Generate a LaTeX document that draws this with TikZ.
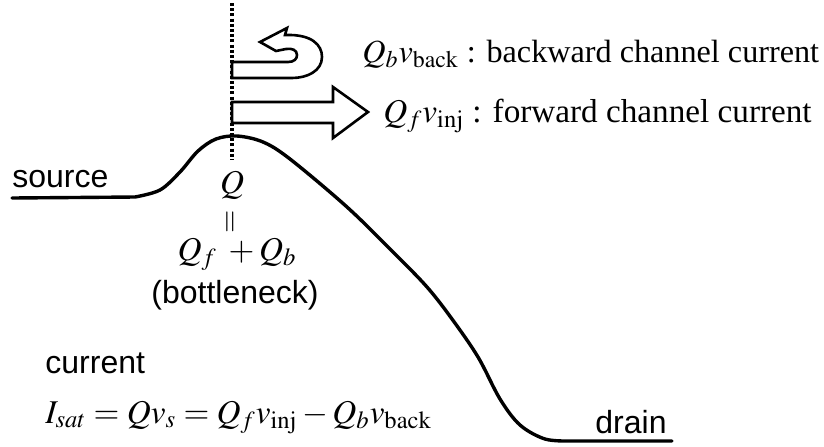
\documentclass[tikz,border=0pt]{standalone}
\usepackage{mathptmx}
\usepackage{fontspec}
\setmainfont{Liberation Serif}
\setsansfont{Liberation Sans}
\usetikzlibrary{positioning}

\begin{document}
\begin{tikzpicture}[
  x=0.5pt, y=-0.5pt,
  font=\fontsize{16.6}{20}\selectfont,
  lbl/.style={inner sep=0pt, anchor=base west},
  sans/.style={font=\sffamily\fontsize{16}{19}\selectfont},
  band/.style={draw, line width=1.3pt, fill=white, line join=miter},
  barrier/.style={line width=1.7pt, line cap=round},
  cut/.style={line width=2pt, dash pattern=on 1.5pt off 1.1pt},
]
\useasboundingbox (0,0) rectangle (824,446);
% potential along the channel
\draw[barrier] (12,198) -- (135,197)
  plot[smooth, tension=0.55] coordinates {(135,197) (160,190) (180,172) (198,151)
    (216,139) (237,136) (263,142) (290,159) (347,207) (393,252) (427,287)
    (452,319) (478,357) (500,399) (520,425) (545,439) (570,441)}
  -- (672,441);
% top of the barrier
\draw[cut] (232,3) -- (232,160);
% backward current: hook arrow
\draw[band] (232,62) -- (288,62) .. controls (294,62) and (297,59) .. (297,55)
  .. controls (297,50) and (292,48) .. (286,49) -- (276,51) -- (260,42)
  -- (287,28) -- (285,35) .. controls (312,34) and (322,45) .. (322,57)
  .. controls (322,71) and (307,78) .. (292,78) -- (232,78) -- cycle;
% forward current: block arrow
\draw[band] (232,102) -- (333,102) -- (333,87) -- (368,112) -- (333,138)
  -- (333,123) -- (232,123) -- cycle;
\node[lbl, font=\fontsize{16.1}{20}\selectfont] (back) at (362,62) {$Q_b v_{\mathrm{back}}$ : backward channel current};
\node[lbl] (fwd) at (383,122) {$Q_f v_{\mathrm{inj}}$ : forward channel current};
\node[lbl, sans] (src) at (12,187) {source};
\node[inner sep=0pt, anchor=base] (q) at (232,193) {$Q$};
\node[inner sep=0pt, rotate=90, font=\fontsize{15}{16}\selectfont] (eq) at (232,222) {$=$};
\node[inner sep=0pt, anchor=base] (qsum) at (237,260) {$Q_f \;+ Q_b$};
\node[inner sep=0pt, anchor=base, sans] (neck) at (235,303) {(bottleneck)};
\node[lbl, sans] (cur) at (45,373) {current};
\node[lbl] (isat) at (45,423) {$I_{sat} = Q v_s = Q_f v_{\mathrm{inj}} - Q_b v_{\mathrm{back}}$};
\node[lbl, sans] (drn) at (595,433) {drain};
\end{tikzpicture}
\end{document}
